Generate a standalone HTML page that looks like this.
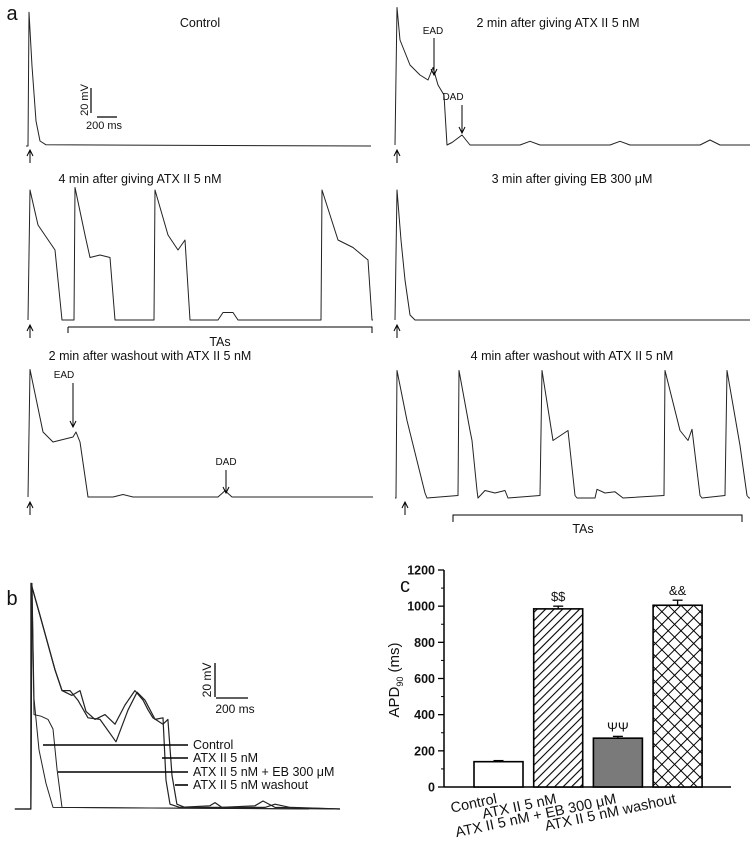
<!DOCTYPE html>
<html><head><meta charset="utf-8"><style>
body{margin:0;background:#fff}
svg{display:block;font-family:"Liberation Sans",sans-serif}
</style></head><body>
<svg id="fig" width="753" height="846" viewBox="0 0 753 846">
<defs>
<pattern id="diag" width="6" height="6" patternUnits="userSpaceOnUse" patternTransform="rotate(45)"><rect width="6" height="6" fill="#fff"/><line x1="0" y1="0" x2="0" y2="6" stroke="#000" stroke-width="2.2"/></pattern>
<pattern id="cross" width="9" height="9" patternUnits="userSpaceOnUse" patternTransform="rotate(45)"><rect width="9" height="9" fill="#fff"/><line x1="0" y1="0" x2="0" y2="9" stroke="#000" stroke-width="2"/><line x1="0" y1="0" x2="9" y2="0" stroke="#000" stroke-width="2"/></pattern>
</defs>
<g id="panelA"></g>
<g id="panelB"></g>
<g id="panelC"></g>
</svg>
<script>
// ---- Panel a traces (time ms, voltage mV above rest)
const ctrlT=[0,20,30,60,100,140,200,3450];
const ctrlV=[0,0,107,64,20,4,1,0];
const atx2T=[0,20,50,150,250,330,380,430,490,520,570,670,750,1250,1350,1450,2150,2250,2350,3050,3150,3250,3550];
const atx2V=[0,110,84,64,56,52,62,48,40,0,2,8,0,0,3,0,0,3,0,0,4,0,0];
const atx4T=[0,20,100,270,340,460,470,570,620,720,820,870,1260,1270,1400,1500,1570,1620,1900,1950,2050,2100,2930,2940,3100,3250,3400,3440,3450];
const atx4V=[0,104,76,56,0,0,106,68,50,52,50,0,0,104,68,56,64,0,0,6,6,0,0,104,64,58,48,0,0];
const ebT=[0,20,60,100,150,200,3550];
const ebV=[0,104,64,32,4,0,0];
const wo2T=[0,20,150,250,350,450,480,520,600,850,950,1050,1900,1970,2040,3450];
const wo2V=[0,102,52,44,46,48,52,44,0,0,2,0,0,5,0,0];
const wo4T=[0,10,20,120,300,320,630,640,750,770,820,830,900,1000,1100,1130,1450,1470,1580,1730,1800,1820,2000,2020,2100,2200,2280,2690,2700,2850,2930,2970,3050,3070,3300,3320,3450,3520,3540,3550];
const wo4V=[0,0,102,62,4,0,2,102,54,46,6,0,6,4,6,0,2,102,46,54,2,0,0,7,4,5,0,2,102,54,46,55,2,0,2,102,42,2,0,0];
// ---- Panel b traces
const bCtrlT=[-107,0,7,20,53,100,147,2060];
const bCtrlV=[0,0,141,69,37,16,1,0];
const bAtxT=[-107,-1,0,60,160,207,260,313,380,460,567,647,707,760,827,880,900,927,993,1193,1227,1273,1493,1547,1627,2060];
const bAtxV=[0,0,141,121,87,74,74,68,57,56,42,62,73,68,56,57,18,3,1,2,4,1,2,5,1,0];
const bEbT=[-107,0,7,20,67,113,147,173,207,1853];
const bEbV=[0,0,141,59,58,56,50,25,1,0];
const bWoT=[-107,-1,0,60,160,207,273,327,367,427,493,560,627,693,747,780,813,880,913,940,973,1027,1560,1627,1727,2060];
const bWoV=[0,0,141,121,87,74,71,74,61,56,59,53,65,74,68,62,57,53,56,21,3,1,1,3,1,0];
const bLegend=["Control","ATX II 5 nM","ATX II 5 nM + EB 300 μM","ATX II 5 nM washout"];
// ---- Panel c data
const cCats=["Control","ATX II 5 nM","ATX II 5 nM + EB 300 μM","ATX II 5 nM washout"];
const cVals=[140,985,270,1005];
const cErr=[6,15,10,28];
const cMarks=["","$$","ΨΨ","&&"];
const cTicks=[0,200,400,600,800,1000,1200];

const NS="http://www.w3.org/2000/svg";
function mk(parent,tag,attrs,text){const e=document.createElementNS(NS,tag);for(const k in attrs)e.setAttribute(k,attrs[k]);if(text!==undefined)e.textContent=text;parent.appendChild(e);return e;}
const A=document.getElementById('panelA'),B=document.getElementById('panelB'),C=document.getElementById('panelC');

function drawTrace(g,T,V,x0,y0,sx,sy,name,w){
  const pts=T.map((t,i)=>(x0+t*sx).toFixed(1)+","+(y0-V[i]*sy).toFixed(1)).join(" ");
  const p=mk(g,'polyline',{points:pts,fill:'none',stroke:'#222','stroke-width':w||1,'stroke-linejoin':'round'});
  
  
}
function label(g,x,y,txt,name,opts){
  const t=mk(g,'text',Object.assign({x:x,y:y,'font-size':12.5,'text-anchor':'middle',fill:'#111'},opts||{}),txt);
  
  
  return t;
}
function arrow(g,x,y1,y2,name){
  const gg=mk(g,'g',{});
  
  
  mk(gg,'line',{x1:x,y1:y1,x2:x,y2:y2,stroke:'#000','stroke-width':1});
  const d=y2>y1?-1:1;
  mk(gg,'path',{d:`M${x-3},${y2+d*6} L${x},${y2} L${x+3},${y2+d*6}`,fill:'none',stroke:'#000','stroke-width':1});
}
const SX=0.1,SY=1.25;
label(A,12,20,'a','panel-letter-a',{'font-size':20});
// Row 1
label(A,200,27,'Control','title-control');
drawTrace(A,ctrlT,ctrlV,26,146,SX,SY,'trace-control');
arrow(A,30,163,150,'stimulus-arrow-1');
mk(A,'line',{x1:91,y1:88,x2:91,y2:113,stroke:'#000','stroke-width':1.2});
mk(A,'line',{x1:97,y1:117,x2:117,y2:117,stroke:'#000','stroke-width':1.2});
label(A,0,0,'20 mV','scale-mv-a',{'font-size':11,transform:'translate(88,100) rotate(-90)'});
label(A,104,129,'200 ms','scale-ms-a',{'font-size':11});
label(A,558,27,'2 min after giving ATX II 5 nM','title-atx-2min');
drawTrace(A,atx2T,atx2V,395,145,SX,SY,'trace-atx-2min');
arrow(A,397,163,150,'stimulus-arrow-2');
label(A,433,34,'EAD','ead-label-1',{'font-size':10});
arrow(A,434,38,75,'ead-arrow-1');
label(A,453,100,'DAD','dad-label-1',{'font-size':10});
arrow(A,462,105,133,'dad-arrow-1');
// Row 2
label(A,140,183,'4 min after giving ATX II 5 nM','title-atx-4min');
drawTrace(A,atx4T,atx4V,28,320,SX,SY,'trace-atx-4min');
arrow(A,30,338,325,'stimulus-arrow-3');
mk(A,'path',{d:'M68,333 L68,327 M68,327 L372,327 L372,333',fill:'none',stroke:'#000','stroke-width':1});
label(A,220,346,'TAs','tas-label-1');
label(A,572,183,'3 min after giving EB 300 μM','title-eb-3min');
drawTrace(A,ebT,ebV,395,320,SX,SY,'trace-eb-3min');
arrow(A,397,338,325,'stimulus-arrow-4');
// Row 3
label(A,150,360,'2 min after washout with  ATX II 5 nM','title-washout-2min');
drawTrace(A,wo2T,wo2V,28,497,SX,SY,'trace-washout-2min');
arrow(A,30,515,502,'stimulus-arrow-5');
label(A,64,378,'EAD','ead-label-2',{'font-size':10});
arrow(A,73,383,427,'ead-arrow-2');
label(A,226,465,'DAD','dad-label-2',{'font-size':10});
arrow(A,226,470,493,'dad-arrow-2');
label(A,572,360,'4 min after washout with ATX II 5 nM','title-washout-4min');
drawTrace(A,wo4T,wo4V,395,498,SX,SY,'trace-washout-4min');
arrow(A,405,515,502,'stimulus-arrow-6');
mk(A,'path',{d:'M453,522 L453,515 L742,515 L742,522',fill:'none',stroke:'#000','stroke-width':1});
label(A,583,533,'TAs','tas-label-2');

// Panel b
label(B,12,605,'b','panel-letter-b',{'font-size':20});
const BX=0.15,BY=1.6;
drawTrace(B,bCtrlT,bCtrlV,31,809,BX,BY,'trace-b-control',1);
drawTrace(B,bEbT,bEbV,31,809,BX,BY,'trace-b-eb',1);
drawTrace(B,bAtxT,bAtxV,31,809,BX,BY,'trace-b-atx',1.2);
drawTrace(B,bWoT,bWoV,31,809,BX,BY,'trace-b-washout',1.2);
const legX0=[43,162,58,175],legY=[745,758,772,785];
bLegend.forEach((s,i)=>{
  const l=mk(B,'line',{x1:legX0[i],y1:legY[i],x2:188,y2:legY[i],stroke:'#000','stroke-width':1.6});
  
  
  label(B,193,legY[i]+4,s,'legend-entry',{'text-anchor':'start','font-size':12.5});
});
mk(B,'line',{x1:215,y1:663,x2:215,y2:697,stroke:'#000','stroke-width':1.3});
mk(B,'line',{x1:216,y1:698,x2:248,y2:698,stroke:'#000','stroke-width':1.3});
label(B,0,0,'20 mV','scale-mv-b',{'font-size':12,transform:'translate(211,680) rotate(-90)'});
label(B,235,713,'200 ms','scale-ms-b',{'font-size':12});

// Panel c
label(C,405,592,'c','panel-letter-c',{'font-size':20});
const y0=787,yTop=570,axX=444;
const ys=v=>y0-(v/1200)*(y0-yTop);
mk(C,'line',{x1:axX,y1:yTop,x2:axX,y2:y0,stroke:'#000','stroke-width':1.5});
mk(C,'line',{x1:axX,y1:y0,x2:731,y2:y0,stroke:'#000','stroke-width':1.5});
cTicks.forEach(v=>{
  mk(C,'line',{x1:axX-6,y1:ys(v),x2:axX,y2:ys(v),stroke:'#000','stroke-width':1.3});
  if(v<1200) mk(C,'line',{x1:axX-3,y1:ys(v+100),x2:axX,y2:ys(v+100),stroke:'#000','stroke-width':1});
  label(C,axX-9,ys(v)+4.5,String(v),'y-tick-label',{'text-anchor':'end','font-size':12.5,'font-weight':'bold'});
});
const yt=label(C,0,0,'APD','y-axis-title',{'font-size':15,transform:'translate(399,680) rotate(-90)'});
mk(yt,'tspan',{'font-size':9,dy:4},'90');
mk(yt,'tspan',{dy:-4},' (ms)');
const fills=['#fff','url(#diag)','#7a7a7a','url(#cross)'];
const bx=v=>474+v*59.7;
cVals.forEach((v,i)=>{
  const x=bx(i),w=49;
  const r=mk(C,'rect',{x:x,y:ys(v),width:w,height:y0-ys(v),fill:fills[i],stroke:'#000','stroke-width':1.6});
  
  
  const cx=x+w/2;
  mk(C,'line',{x1:cx,y1:ys(v),x2:cx,y2:ys(v+cErr[i]),stroke:'#000','stroke-width':1.3});
  mk(C,'line',{x1:cx-5,y1:ys(v+cErr[i]),x2:cx+5,y2:ys(v+cErr[i]),stroke:'#000','stroke-width':1.3});
  if(cMarks[i]) label(C,cx,ys(v+cErr[i])-5,cMarks[i],'significance-mark',{'font-size':13});
  label(C,0,0,cCats[i],'x-category-label',{'text-anchor':'end','font-size':14.5,transform:`translate(${cx-1},${803}) rotate(-12)`});
});
</script>
</body></html>
